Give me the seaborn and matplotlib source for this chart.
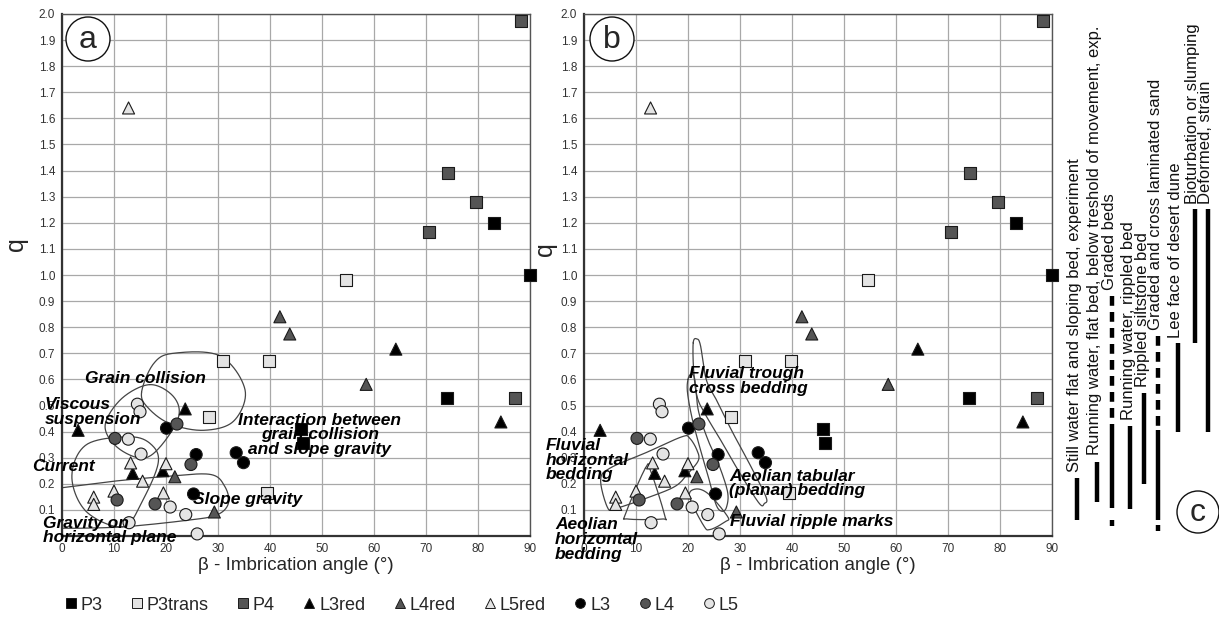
import numpy as np
import pandas as pd
import seaborn as sns
import matplotlib.pyplot as plt
from matplotlib.lines import Line2D
from matplotlib.patches import Circle

# imbrication angle beta (deg) and shape factor q for each sample group
p3_beta = [46.0, 46.3, 74.1, 83.1, 90.0]
p3_q = [0.41, 0.355, 0.53, 1.20, 1.00]
p3trans_beta = [30.9, 39.9, 28.3, 39.4, 54.7]
p3trans_q = [0.67, 0.67, 0.457, 0.164, 0.98]
p4_beta = [88.2, 74.3, 79.7, 70.6, 87.2]
p4_q = [1.975, 1.39, 1.28, 1.165, 0.53]
l3red_beta = [3.1, 23.7, 13.6, 19.4, 64.2, 84.4]
l3red_q = [0.405, 0.487, 0.24, 0.25, 0.716, 0.437]
l4red_beta = [21.7, 29.3, 41.9, 43.8, 58.5]
l4red_q = [0.227, 0.092, 0.84, 0.774, 0.581]
l5red_beta = [12.8, 13.2, 20.0, 15.5, 10.0, 6.1, 6.1, 19.5]
l5red_q = [1.64, 0.28, 0.277, 0.21, 0.172, 0.149, 0.121, 0.165]
l3_beta = [20.1, 25.8, 33.5, 34.9, 25.3]
l3_q = [0.413, 0.312, 0.319, 0.281, 0.161]
l4_beta = [22.1, 10.2, 24.8, 10.6, 17.9]
l4_q = [0.429, 0.374, 0.274, 0.138, 0.123]
l5_beta = [14.5, 15.0, 12.75, 15.2, 20.8, 23.8, 12.9, 26.0]
l5_q = [0.505, 0.476, 0.371, 0.314, 0.111, 0.082, 0.051, 0.008]

series = ["P3", "P3trans", "P4", "L3red", "L4red", "L5red", "L3", "L4", "L5"]
betas = [p3_beta, p3trans_beta, p4_beta, l3red_beta, l4red_beta, l5red_beta, l3_beta, l4_beta, l5_beta]
qs = [p3_q, p3trans_q, p4_q, l3red_q, l4red_q, l5red_q, l3_q, l4_q, l5_q]

colors = {"P3": "#000000", "P3trans": "#e4e4e4", "P4": "#555555",
          "L3red": "#000000", "L4red": "#555555", "L5red": "#e4e4e4",
          "L3": "#000000", "L4": "#555555", "L5": "#e4e4e4"}
markers = {"P3": "s", "P3trans": "s", "P4": "s",
           "L3red": "^", "L4red": "^", "L5red": "^",
           "L3": "o", "L4": "o", "L5": "o"}

df = pd.concat([pd.DataFrame({"beta": b, "q": q, "series": s})
                for s, b, q in zip(series, betas, qs)], ignore_index=True)

# environment fields (outlines)
grain_collision = [(15.3, 0.55), (17.6, 0.66), (21.4, 0.70), (30.4, 0.69), (35.2, 0.56),
                   (33.0, 0.44), (27.2, 0.405), (20.8, 0.43), (16.6, 0.49)]
viscous = [(16.9, 0.58), (21.4, 0.535), (22.4, 0.455), (18.8, 0.34), (15.3, 0.298),
           (10.5, 0.342), (8.3, 0.425), (11.5, 0.527)]
current = [(13.1, 0.38), (17.2, 0.35), (18.5, 0.28), (15.6, 0.14), (11.8, 0.036),
           (4.7, 0.093), (1.9, 0.227), (4.7, 0.35)]
slope_band = [(0, 0.185), (10, 0.21), (20, 0.228), (28.5, 0.236), (31.3, 0.19), (32, 0.125),
              (29.7, 0.08), (24, 0.06), (12.4, 0.036), (4, 0.03), (0, 0.03)]

fluvial_trough = [(21.0, 0.74), (21.7, 0.755), (22.4, 0.73), (23.5, 0.60), (25.5, 0.52),
                  (28.5, 0.40), (32, 0.27), (35, 0.15), (34.7, 0.125), (33.7, 0.125),
                  (30, 0.24), (26.5, 0.36), (23.5, 0.46), (21.8, 0.53), (21.1, 0.63)]
aeolian_tabular = [(20.0, 0.60), (20.6, 0.62), (21.3, 0.60), (22.0, 0.48), (23.8, 0.37),
                   (25.8, 0.28), (27.6, 0.17), (27.4, 0.11), (26.5, 0.095), (25.4, 0.12),
                   (24, 0.22), (22.4, 0.33), (20.8, 0.45), (19.9, 0.55)]
fluvial_horizontal = [(3.2, 0.215), (5, 0.26), (12, 0.32), (18.8, 0.38), (20.3, 0.375),
                      (21.7, 0.33), (22, 0.29), (20, 0.24), (17.5, 0.19), (12, 0.145),
                      (6, 0.105), (4.5, 0.11)]
aeolian_horizontal = [(11.8, 0.26), (12.8, 0.25), (15.5, 0.08), (15, 0.065), (8.5, 0.065), (8, 0.085)]
fluvial_ripple = [(20.3, 0.15), (21.5, 0.18), (24, 0.16), (27.6, 0.075), (27.2, 0.055),
                  (24.3, 0.025), (23, 0.04)]

# panel c: (x px, text bottom px, label, [(style, y_top, y_bottom), ...])
panel_c = [
    (1077, 472, "Still water flat and sloping bed, experiment", [("-", 478, 520)]),
    (1097, 455, "Running water, flat bed, below treshold of movement, exp.", [("-", 462, 502)]),
    (1112, 290, "Graded beds", [("--", 296, 425), ("-", 425, 508), ("-", 520, 526)]),
    (1130, 420, "Running water, rippled bed", [("-", 426, 509)]),
    (1144, 387, "Rippled siltstone bed", [("-", 393, 484)]),
    (1158, 330, "Graded and cross laminated sand", [("--", 336, 430), ("-", 430, 520), ("-", 525, 531)]),
    (1178, 338, "Lee face of desert dune", [("-", 343, 432)]),
    (1195, 204, "Bioturbation or slumping", [("-", 209, 343)]),
    (1208, 204, "Deformed, strain", [("-", 209, 432)]),
]

narrow = ["Liberation Sans Narrow", "Liberation Sans", "DejaVu Sans"]
sns.set_style("white")
plt.rcParams["font.family"] = ["Liberation Sans", "DejaVu Sans"]


def smooth(pts, closed=True, n=24):
    P = np.asarray(pts, float)
    if not closed:
        P = np.vstack([2 * P[0] - P[1], P, 2 * P[-1] - P[-2]])
    m = len(P)
    segs = []
    rng = range(m) if closed else range(1, m - 2)
    t = np.linspace(0, 1, n, endpoint=False)[:, None]
    for i in rng:
        p0, p1, p2, p3 = P[i - 1], P[i], P[(i + 1) % m], P[(i + 2) % m]
        segs.append(0.5 * (2 * p1 + (-p0 + p2) * t + (2 * p0 - 5 * p1 + 4 * p2 - p3) * t ** 2
                           + (-p0 + 3 * p1 - 3 * p2 + p3) * t ** 3))
    out = np.vstack(segs)
    out = np.vstack([out, out[:1]]) if closed else np.vstack([out, P[-2]])
    return out[:, 0], out[:, 1]


W, H = 1219, 618
fig = plt.figure(figsize=(W / 100, H / 100), dpi=100)
ax_a = fig.add_axes([62 / W, 1 - 536 / H, 468 / W, 522 / H])
ax_b = fig.add_axes([584 / W, 1 - 536 / H, 468 / W, 522 / H])

for ax in (ax_a, ax_b):
    sns.scatterplot(data=df, x="beta", y="q", hue="series", style="series",
                    palette=colors, markers=markers, s=75, edgecolor="#1a1a1a",
                    linewidth=0.8, legend=False, ax=ax, zorder=3, clip_on=False)
    ax.set_xlim(0, 90)
    ax.set_ylim(0, 2.0)
    ax.set_xticks(np.arange(0, 91, 10))
    ax.set_xticks(np.arange(0, 91, 1), minor=True)
    ax.set_yticks(np.arange(0.1, 2.01, 0.1))
    ax.set_yticklabels([f"{v:.1f}" for v in np.arange(0.1, 2.01, 0.1)])
    ax.grid(True, which="major", color="#a8a8a8", lw=0.9)
    ax.set_axisbelow(True)
    ax.tick_params(axis="x", which="both", direction="inout", length=6, width=0.8,
                   color="#999999", labelsize=8.5, labelcolor="#333333", pad=2)
    ax.tick_params(axis="y", length=0, labelsize=8.5, labelcolor="#333333", pad=5)
    for side in ("left", "bottom"):
        ax.spines[side].set_color("#333333")
        ax.spines[side].set_linewidth(1.6)
    for side in ("top", "right"):
        ax.spines[side].set_color("#555555")
        ax.spines[side].set_linewidth(1.0)
    ax.set_xlabel("β - Imbrication angle (°)", family=narrow, fontsize=13.5)
    ax.xaxis.set_label_coords(0.5, -(557 - 536) / 522)
    ax.set_ylabel("q", fontsize=18)

ax_a.yaxis.set_label_coords(-0.072, 0.56)
ax_b.yaxis.set_label_coords(-0.058, 0.55)

line_kw = dict(color="#444444", lw=0.9, zorder=2)
for shape in (grain_collision, viscous, current):
    ax_a.plot(*smooth(shape), **line_kw)
ax_a.plot(*smooth(slope_band, closed=False), **line_kw)
for shape in (fluvial_trough, aeolian_tabular, fluvial_horizontal, aeolian_horizontal, fluvial_ripple):
    ax_b.plot(*smooth(shape), **line_kw)

ann = dict(fontsize=12.5, fontweight="bold", style="italic", color="black",
           zorder=4, clip_on=False, linespacing=0.95)
ax_a.text(4.4, 0.605, "Grain collision", va="center", **ann)
ax_a.text(-3.3, 0.475, "Viscous\nsuspension", va="center", **ann)
ax_a.text(-5.8, 0.268, "Current", va="center", **ann)
ax_a.text(-3.7, 0.022, "Gravity on\nhorizontal plane", va="center", **ann)
ax_a.text(25.2, 0.138, "Slope gravity", va="center", **ann)
ax_a.text(49.6, 0.387, "Interaction between\ngrain collision\nand slope gravity",
          va="center", ha="center", multialignment="center", **ann)

ax_b.text(20.2, 0.594, "Fluvial trough\ncross bedding", va="center", **ann)
ax_b.text(-7.4, 0.29, "Fluvial\nhorizontal\nbedding", va="center", **ann)
ax_b.text(-5.6, -0.012, "Aeolian\nhorizontal\nbedding", va="center",
          **{**ann, "linespacing": 1.0})
ax_b.text(27.9, 0.20, "Aeolian tabular\n(planar) bedding", va="center", **ann)
ax_b.text(28.1, 0.054, "Fluvial ripple marks", va="center", **ann)

# overlay in pixel coordinates for panel letters and panel c
ov = fig.add_axes([0, 0, 1, 1])
ov.set_xlim(0, W)
ov.set_ylim(H, 0)
ov.axis("off")
for cx, cy, r, letter in ((88, 39, 22, "a"), (612, 39, 22, "b"), (1198, 512, 21, "c")):
    ov.add_patch(Circle((cx, cy), r, fc="white", ec="#111111", lw=1.0, zorder=5))
    ov.text(cx, cy + 1, letter, ha="center", va="center", fontsize=23, zorder=6)

for x, ytext, label, segs in panel_c:
    ov.text(x - 2, ytext, label, rotation=90, ha="center", va="bottom",
            family=narrow, fontsize=12, color="#111111")
    for style, y0, y1 in segs:
        if style == "--":
            ov.plot([x, x], [y0, y1], color="black", lw=3.2, solid_capstyle="butt",
                    linestyle=(0, (2.2, 1.4)))
        else:
            ov.plot([x, x], [y0, y1], color="black", lw=3.2, solid_capstyle="butt")

handles = [Line2D([], [], linestyle="none", marker=markers[s], markersize=7,
                  markerfacecolor=colors[s], markeredgecolor="#1a1a1a", markeredgewidth=0.7)
           for s in series]
fig.legend(handles, series, loc="center", bbox_to_anchor=(401 / W, 1 - 605 / H), ncol=9,
           frameon=False, handletextpad=0.15, columnspacing=1.5, handlelength=0.8,
           prop={"family": narrow, "size": 13})

fig.savefig("out.png", dpi=100)
